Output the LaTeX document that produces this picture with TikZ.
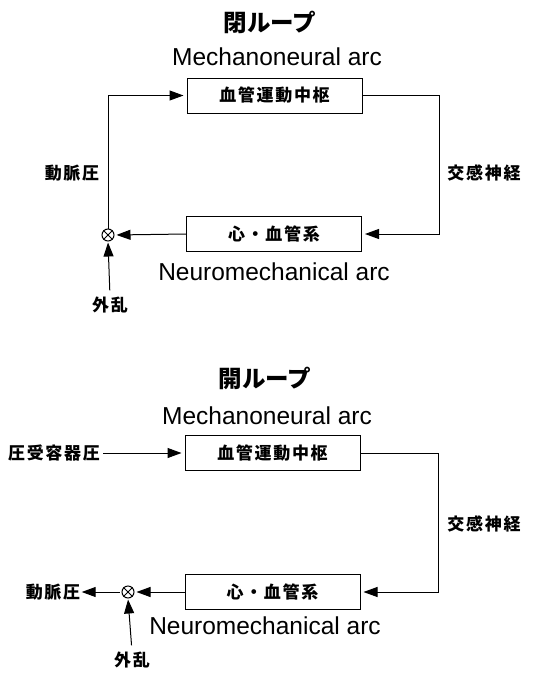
\documentclass[tikz,border=0pt]{standalone}
\usepackage{fontspec}
\setmainfont{Liberation Sans}
\newfontfamily\jp[LetterSpace=10]{Noto Sans CJK JP}
\newfontfamily\jptitle{Noto Sans CJK JP}
\usetikzlibrary{arrows.meta,positioning,calc}

\begin{document}
\begin{tikzpicture}[
    x=1pt,y=-1pt,
    line width=1pt,
    block/.style={draw,minimum width=175pt,minimum height=35pt,inner sep=0pt,font=\jp\bfseries\fontsize{17}{20}\selectfont},
    jlabel/.style={inner sep=0pt,font=\jp\bfseries\fontsize{17}{20}\selectfont},
    elabel/.style={inner sep=0pt,font=\fontsize{24.5}{28}\selectfont},
    title/.style={inner sep=0pt,font=\jptitle\bfseries\fontsize{23.5}{26}\selectfont},
    sumnode/.style={draw,circle,minimum size=12pt,inner sep=0pt},
    arrow/.style={-{Triangle[length=14pt,width=10pt]},shorten >=3pt}
]
\useasboundingbox (0,0) rectangle (550,675);
% closed loop
\node[title] (ttl1) at (270,22) {閉ループ};
\node[elabel] (mna1) at (277,57) {Mechanoneural arc};
\node[block] (vmc1) at (274.5,95.5) {血管運動中枢};
\node[block] (cvs1) at (274,234) {心・血管系};
\node[elabel] (nma1) at (274,272) {Neuromechanical arc};
\node[sumnode] (sum1) at (108,235) {};
\draw (sum1.45) -- (sum1.225) (sum1.135) -- (sum1.315);
\node[jlabel] (abp1) at (72,173) {動脈圧};
\node[jlabel] (sym1) at (484,173) {交感神経};
\node[jlabel] (dst1) at (110,305) {外乱};
\coordinate (rt1) at (439,0);
\draw[arrow] (sum1.north) |- (vmc1.west);
\draw[arrow] (vmc1.east) -- (vmc1.east -| rt1) |- (cvs1.east);
\draw[arrow,shorten >=2pt] (cvs1.west) -- (sum1.east);
\draw[arrow,shorten <=6pt,shorten >=1pt] (dst1.north) -- (sum1.south);
% open loop
\node[title] (ttl2) at (265,378) {開ループ};
\node[elabel] (mna2) at (267,416) {Mechanoneural arc};
\node[block] (vmc2) at (272.5,453) {血管運動中枢};
\node[block] (cvs2) at (272.5,592) {心・血管系};
\node[elabel] (nma2) at (265,626) {Neuromechanical arc};
\node[sumnode] (sum2) at (128,592) {};
\draw (sum2.45) -- (sum2.225) (sum2.135) -- (sum2.315);
\node[jlabel] (bar2) at (54,453) {圧受容器圧};
\node[jlabel] (abp2) at (53,592) {動脈圧};
\node[jlabel] (sym2) at (484,524) {交感神経};
\node[jlabel] (dst2) at (132,660) {外乱};
\coordinate (rt2) at (438,0);
\draw[arrow,shorten <=3pt] (bar2.east) -- (vmc2.west);
\draw[arrow] (vmc2.east) -- (vmc2.east -| rt2) |- (cvs2.east);
\draw[arrow,shorten >=2pt] (cvs2.west) -- (sum2.east);
\draw[arrow,shorten <=2pt,shorten >=1pt] (sum2.west) -- (abp2.east);
\draw[arrow,shorten <=6pt,shorten >=1pt] (dst2.north) -- (sum2.south);
\end{tikzpicture}
\end{document}
